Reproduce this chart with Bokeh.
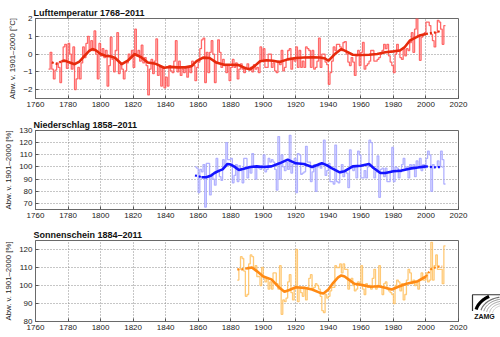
import numpy as np
from bokeh.plotting import figure
from bokeh.layouts import column, row
from bokeh.models import Range1d, FixedTicker
from bokeh.embed import file_html
from bokeh.resources import INLINE
from bokeh.core.properties import value

# ---------------- data ----------------
TEMP_START = 1768
TEMP = [
    -0.85, 0.1, -0.85, -1.4, -0.9, -0.5, -0.75, -1.6, -0.4, 0.4,
    0.55, -0.8, 0.6, 0.0, -0.85, 0.4, -2.0, -1.4, -0.75, -1.4,
    -0.5, 0.4, -0.2, 0.6, 1.0, 0.2, 0.75, 0.2, 1.3, 0.0,
    -1.4, 0.6, -0.1, 0.3, -0.2, 0.2, -1.8, -0.65, 0.95, -0.3,
    -1.0, 0.2, 1.2, -1.1, -0.6, -0.85, -1.4, -0.95, -0.5, 0.0,
    -0.2, 0.2, -0.75, 1.4, -0.1, 0.2, -0.4, 0.5, -0.5, -0.2,
    -0.65, -2.3, -0.85, -0.3, -1.1, -0.4, 0.85, -1.2, -0.75, -1.8,
    -0.75, -1.9, -1.3, -1.8, -0.65, -0.95, -1.05, -0.4, 0.75, -1.0,
    -0.4, -1.2, -0.85, -1.05, -0.75, -1.3, -0.75, -1.05, -0.4, -0.65,
    -1.5, -0.75, -0.45, 0.3, 0.8, 0.9, -1.6, 0.1, -1.05, 0.1,
    0.75, 0.0, -1.6, -0.45, 0.8, 0.1, -0.75, -0.3, -0.65, -1.05,
    -0.65, -1.5, -0.75, -0.3, -0.75, -0.5, -1.4, -0.85, -0.55, -0.85,
    -1.05, -0.75, -0.55,
    -0.9, -0.75, -1.0, -0.6, -0.85, -0.75, -1.05, 0.4, -0.4, 0.3,
    -0.75, -0.75, 0.0, 0.0, -0.75, -0.5, -0.95, -1.05, -0.4, -0.6,
    0.2, -0.95, -0.75, -0.3, 0.2, 0.3, -0.85, -0.3, -0.4, 0.4,
    -0.75, 0.2, -0.75, -0.4, -0.75, 0.4, 0.3, 0.2, -0.75, 0.2,
    -0.85, -0.75, -0.4, 0.9, -0.75, 0.0, 0.0, -0.45, -0.6, -1.7,
    -1.05, -0.4, 0.4, 0.2, 0.55, 0.55, 0.4, 0.2, 0.65, 0.7,
    0.0, -0.45, -0.65, -0.2, -0.45, -1.2, -0.1, 0.2, -0.65, 0.1,
    0.65, -0.85, -0.65, -0.55, -0.4, 0.2, 0.2, -0.4, -0.4, -0.3,
    -0.2, 0.0, 0.2, 0.55, 0.3, 0.55, -0.1, -0.45, -0.65, -1.05,
    0.0, 0.55, 0.2, -0.2, -0.3, 0.3, -0.1, 0.3, 0.2, 0.65,
    1.2, 0.1, 1.4, 2.0, 1.0, -0.35, 0.95, 1.1, 1.2, 1.8,
    1.8, 1.6, 1.1, 0.75, 0.4, 1.2, 1.9, 1.8, 1.4, 0.55,
    1.6,
]
TEMP_SM_YEARS = [1770, 1773, 1776, 1778, 1781, 1784, 1787, 1790, 1793, 1795,
                 1797, 1800, 1803, 1806, 1809, 1813, 1817, 1821, 1825, 1829,
                 1834, 1839, 1843, 1847, 1852, 1856, 1859, 1863, 1867, 1871,
                 1876, 1881, 1885, 1889, 1892, 1895, 1898, 1902, 1906, 1910,
                 1915, 1920, 1925, 1930, 1935, 1938, 1940, 1944, 1948, 1951,
                 1955, 1960, 1965, 1970, 1975, 1980, 1984, 1987, 1990, 1993,
                 1996, 2000, 2003, 2006, 2009]
TEMP_SM = [-0.47, -0.55, -0.4, -0.37, -0.47, -0.57, -0.42, -0.12, 0.18, 0.28,
           0.22, 0.0, -0.1, -0.12, -0.22, -0.57, -0.35, 0.0, -0.18, -0.47,
           -0.55, -0.77, -0.72, -0.75, -0.75, -0.68, -0.4, -0.2, -0.22, -0.47,
           -0.6, -0.6, -0.62, -0.8, -0.85, -0.65, -0.4, -0.35, -0.38, -0.45,
           -0.3, -0.22, -0.19, -0.18, -0.19, -0.25, -0.38, 0.0, 0.28, 0.15,
           -0.04, -0.05, -0.04, 0.0, 0.1, 0.15, 0.2, 0.4, 0.75, 0.9,
           1.04, 1.13, 1.18, 1.22, 1.3]

PREC_START = 1858
PREC = [
    100, 99, 79, 98, 96, 102, 67, 103, 103, 77,
    94, 90, 85, 107, 97, 92, 89, 106, 100, 120,
    106, 106, 107, 87, 93, 102, 88, 101, 97, 87,
    107, 107, 91, 100, 95, 111, 100, 90, 100, 99,
    98, 101, 110, 96, 98, 107, 104, 106, 104, 98,
    81, 125, 90, 110, 100, 97, 104, 98, 126, 95,
    102, 107, 79, 111, 110, 94, 95, 96, 117, 104,
    104, 88, 96, 102, 80, 100, 103, 99, 103, 122,
    93, 97, 103, 88, 88, 86, 118, 88, 87, 95,
    102, 92, 97, 95, 83, 114, 100, 97, 100, 91,
    113, 110, 91, 91, 97, 91, 100, 122, 120, 99,
    91, 96, 109, 75, 98, 99, 92, 99, 88, 88,
    96, 116, 88, 100, 99, 91, 96, 102, 107, 99,
    100, 91, 102, 100, 102, 92, 105, 100, 107, 97,
    102, 99, 107, 113, 110, 80, 102, 100, 100, 105,
    100, 113, 106, 86,
]
PREC_SM_YEARS = [1858, 1860, 1862, 1865, 1868, 1870, 1873, 1875, 1878, 1880,
                 1882, 1885, 1888, 1892, 1896, 1900, 1905, 1910, 1915, 1920,
                 1925, 1930, 1936, 1939, 1942, 1947, 1950, 1955, 1960, 1965,
                 1968, 1972, 1975, 1980, 1985, 1990, 1995, 2000, 2005, 2010]
PREC_SM = [93, 92.5, 91.5, 91.5, 93, 95, 97, 98, 102.5, 102,
           100.5, 97.5, 98.5, 100, 100.5, 100, 100.5, 103, 106, 103,
           102.5, 100, 103, 101.5, 99, 95.6, 96.5, 100.5, 101, 102.5,
           99, 95, 95, 96.5, 97, 98.6, 99.5, 100.5, 99.7, 100]

SUN_START = 1884
SUN = [
    103, 109, 116, 115, 108, 94, 95, 112, 117, 116,
    109, 111, 105, 105, 100, 110, 105, 102, 104, 98,
    102, 98, 107, 107, 101, 98, 111, 84, 92, 91,
    93, 102, 106, 96, 92, 98, 120, 91, 99, 96,
    94, 99, 92, 99, 104, 106, 98, 99, 101, 100,
    98, 94, 86, 85, 95, 93, 94, 97, 99, 99,
    111, 110, 110, 112, 107, 112, 109, 109, 98, 102,
    104, 100, 97, 98, 102, 101, 111, 98, 95, 101,
    99, 100, 98, 104, 109, 98, 100, 111, 99, 95,
    101, 102, 98, 97, 96, 95, 90, 100, 103, 102,
    97, 101, 92, 95, 103, 109, 107, 101, 103, 100,
    102, 98, 103, 107, 103, 103, 107, 102, 103, 124,
    103, 111, 117, 109, 109, 109, 101, 122,
]
SUN_SM_YEARS = [1884, 1887, 1890, 1893, 1896, 1900, 1905, 1910, 1913, 1916,
                1920, 1925, 1930, 1935, 1937, 1940, 1943, 1946, 1948, 1950,
                1953, 1956, 1961, 1966, 1971, 1975, 1979, 1983, 1988, 1995,
                2000, 2003, 2007, 2010]
SUN_SM = [109, 109, 109.5, 110, 108, 105, 103.4, 98.7, 96.5, 97.5,
          99, 98.7, 97.8, 95.9, 95.5, 97.8, 101.5, 104.5, 105.6, 105,
          103, 101, 100.2, 99.3, 99.6, 98.7, 97.8, 99.3, 101, 102.4,
          105, 109, 110.5, 110.5]

X_TICKS = list(range(1760, 2021, 20))
FONT = "Liberation Sans"


def make_panel(title, ylabel, yr, yticks, height, top, bottom, width, right):
    p = figure(width=width, height=height,
               x_range=Range1d(1760, 2020), y_range=Range1d(*yr),
               output_backend="svg", toolbar_location=None,
               min_border_left=35, min_border_right=right,
               min_border_top=top, min_border_bottom=bottom,
               title=title, background_fill_color="white",
               border_fill_color="white")
    p.title.text_font = FONT
    p.title.text_font_size = "9px"
    p.title.text_font_style = "bold"
    p.title.text_color = "#111111"
    p.title.align = "left"
    p.title.offset = -2
    p.title.standoff = 2
    p.outline_line_color = "#6a6a6a"
    p.outline_line_width = 1
    for ax in (p.xaxis, p.yaxis):
        ax.major_label_text_font = FONT
        ax.major_label_text_font_size = "8px"
        ax.major_label_text_color = "#222222"
        ax.major_tick_in = 3
        ax.major_tick_out = 0
        ax.minor_tick_line_color = None
        ax.major_tick_line_color = "#555555"
        ax.axis_line_color = "#6a6a6a"
        ax.major_label_standoff = 3
    p.xaxis.ticker = FixedTicker(ticks=X_TICKS)
    p.yaxis.ticker = FixedTicker(ticks=yticks)
    p.yaxis.axis_label = ylabel
    p.yaxis.axis_label_text_font = FONT
    p.yaxis.axis_label_text_font_size = "7.8px"
    p.yaxis.axis_label_text_font_style = "normal"
    p.yaxis.axis_label_text_color = "#222222"
    p.yaxis.axis_label_standoff = 3
    p.xgrid.ticker = FixedTicker(ticks=X_TICKS)
    p.ygrid.ticker = FixedTicker(ticks=yticks)
    p.grid.grid_line_color = "#8c8c8c"
    p.grid.grid_line_dash = "1 2"
    p.grid.grid_line_width = 1
    return p


def draw_series(p, start, vals, sm_years, sm_vals, lo, hi, c_step, c_smooth):
    years = [start + i for i in range(len(vals))]
    xs = years + [years[-1] + 1]
    ys = list(vals) + [vals[-1]]
    p.step(xs, ys, mode="after", line_color=c_step, line_width=1.3, line_alpha=0.85)
    solid = [(y, v) for y, v in zip(sm_years, sm_vals) if lo <= y <= hi]
    head = [(y, v) for y, v in zip(sm_years, sm_vals) if y <= lo]
    tail = [(y, v) for y, v in zip(sm_years, sm_vals) if y >= hi]
    p.line([a for a, _ in solid], [b for _, b in solid], line_color=c_smooth, line_width=2.6)
    for seg in (head, tail):
        if len(seg) > 1:
            p.line([a for a, _ in seg], [b for _, b in seg], line_color=c_smooth,
                   line_width=2.2, line_dash="2 2")


p1 = make_panel("Lufttemperatur 1768\u20132011", "Abw. v. 1901\u20132000 [\u00b0C]",
                (-2.5, 2), [-2, -1, 0, 1, 2], 110, 18, 12, 500, 42)
draw_series(p1, TEMP_START, TEMP, TEMP_SM_YEARS, TEMP_SM, 1776, 2000, "#ff4f4f", "#e62a0c")

p2 = make_panel("Niederschlag 1858\u20132011", "Abw. v. 1901\u20132000 [%]",
                (65, 130), [70, 80, 90, 100, 110, 120, 130], 112, 20, 13, 500, 42)
draw_series(p2, PREC_START, PREC, PREC_SM_YEARS, PREC_SM, 1862, 2000, "#a3a3ff", "#1414ff")

p3 = make_panel("Sonnenschein 1884\u20132011", "Abw. v. 1901\u20132000 [%]",
                (80, 125), [80, 90, 100, 110, 120], 115, 18, 16, 468, 10)
draw_series(p3, SUN_START, SUN, SUN_SM_YEARS, SUN_SM, 1890, 2000, "#ffbf5e", "#ff8a14")

# ---------------- ZAMG logo ----------------
lg = figure(width=32, height=115, x_range=Range1d(0, 32), y_range=Range1d(115, 0),
            output_backend="svg", toolbar_location=None, min_border=0,
            x_axis_type=None, y_axis_type=None, outline_line_color=None,
            background_fill_color="white", border_fill_color="white")
lg.grid.visible = False
lg.line([32, 4, 4], [77, 77, 100], line_color="#333333", line_width=1.2)
cx, cy = 36, 104
for r, a0, a1, col, w in [(12, 175, 95, "#c8c8c8", 1), (15, 175, 95, "#b0b0b0", 1),
                          (18, 172, 97, "#9a9a9a", 1), (21, 170, 99, "#888888", 1),
                          (24, 168, 102, "#707070", 1.2)]:
    t = np.radians(np.linspace(a0, a1, 30))
    lg.line(cx + r * np.cos(t), cy - r * np.sin(t), line_color=col, line_width=w)
t = np.radians(np.linspace(168, 122, 30))
lg.line(cx + 29 * np.cos(t), cy - 29 * np.sin(t), line_color="black", line_width=3.2)
lg.text(x=[16], y=[108], text=["ZAMG"], text_font=value(FONT), text_font_size="7px",
        text_font_style="bold", text_align="center", text_baseline="middle",
        text_color="#111111")

layout = column(p1, p2, row(p3, lg))
open("out.html", "w").write(file_html(layout, INLINE))
